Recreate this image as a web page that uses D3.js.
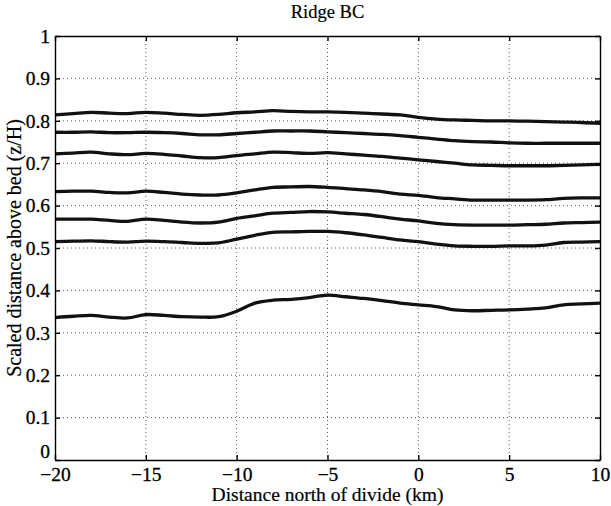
<!DOCTYPE html>
<html>
<head>
<meta charset="utf-8">
<script src="https://cdn.jsdelivr.net/npm/d3@7"></script>
<style>
  body { margin: 0; background: #fff; }
  svg text { font-family: "Liberation Serif", "Times New Roman", serif; fill: #000; }
</style>
</head>
<body>
<svg id="chart" width="611" height="506"></svg>
<script>
// x positions (km north of divide)
var distKm = d3.range(-20, 11, 1);

// scaled height above bed for each traced layer, top to bottom
var layer1 = [.814,.817,.820,.818,.817,.820,.818,.815,.813,.815,.819,.821,.824,.822,.821,.821,.820,.818,.816,.814,.808,.804,.802,.801,.800,.800,.799,.798,.797,.796,.794];
var layer2 = [.773,.773,.774,.772,.772,.773,.772,.770,.767,.767,.770,.773,.776,.776,.776,.774,.772,.770,.768,.765,.761,.757,.753,.751,.750,.748,.747,.747,.747,.747,.747];
var layer3 = [.722,.724,.726,.722,.720,.723,.721,.717,.713,.713,.718,.722,.726,.725,.723,.725,.722,.719,.716,.712,.708,.704,.700,.696,.695,.694,.694,.694,.695,.696,.697];
var layer4 = [.633,.634,.634,.631,.630,.634,.631,.627,.625,.625,.630,.637,.643,.644,.645,.643,.640,.637,.633,.627,.624,.619,.616,.613,.613,.613,.613,.614,.617,.618,.618];
var layer5 = [.568,.568,.568,.565,.563,.568,.565,.561,.559,.561,.570,.576,.582,.584,.586,.585,.582,.579,.574,.568,.564,.558,.555,.554,.554,.554,.555,.556,.559,.560,.561];
var layer6 = [.515,.516,.517,.515,.514,.516,.515,.513,.511,.512,.521,.530,.537,.538,.539,.539,.536,.531,.525,.519,.515,.509,.505,.504,.504,.505,.505,.507,.513,.514,.515];
var layer7 = [.336,.339,.341,.337,.335,.343,.341,.338,.337,.338,.351,.370,.377,.379,.383,.389,.385,.381,.376,.370,.366,.362,.354,.352,.353,.354,.356,.359,.366,.368,.370];

var xTicks = [-20, -15, -10, -5, 0, 5, 10];
var yTicks = [0, 0.1, 0.2, 0.3, 0.4, 0.5, 0.6, 0.7, 0.8, 0.9, 1];

var svg = d3.select('#chart');
var margin = {top: 36, right: 11, bottom: 46, left: 55};
var W = 611 - margin.left - margin.right;
var H = 506 - margin.top - margin.bottom;

var x = d3.scaleLinear().domain([-20, 10]).range([0, W]);
var y = d3.scaleLinear().domain([0, 1]).range([H, 0]);

var g = svg.append('g')
    .attr('transform', 'translate(' + margin.left + ',' + margin.top + ')');

// dotted grid
g.append('g').selectAll('line')
    .data(xTicks.slice(1, -1))
    .enter().append('line')
    .attr('x1', function(d) { return x(d); })
    .attr('x2', function(d) { return x(d); })
    .attr('y1', 0).attr('y2', H)
    .attr('stroke', '#333').attr('stroke-width', 0.8)
    .attr('stroke-dasharray', '1,3');

g.append('g').selectAll('line')
    .data(yTicks.slice(1, -1))
    .enter().append('line')
    .attr('y1', function(d) { return y(d); })
    .attr('y2', function(d) { return y(d); })
    .attr('x1', 0).attr('x2', W)
    .attr('stroke', '#333').attr('stroke-width', 0.8)
    .attr('stroke-dasharray', '1,3');

// the traced layers
var line = d3.line()
    .curve(d3.curveCatmullRom)
    .x(function(d, i) { return x(distKm[i]); })
    .y(function(d) { return y(d); });

g.append('g').selectAll('path')
    .data([layer1, layer2, layer3, layer4, layer5, layer6, layer7])
    .enter().append('path')
    .attr('d', line)
    .attr('fill', 'none')
    .attr('stroke', '#111')
    .attr('stroke-width', 3.3)
    .attr('stroke-linejoin', 'round');

// axes, MATLAB style: ticks inside on all four sides
var fmtX = function(d) { return d < 0 ? '\u2212' + Math.abs(d) : d; };
var fmtY = function(d) { return d === 0 || d === 1 ? d : d.toFixed(1); };

var xAxis = g.append('g')
    .attr('transform', 'translate(0,' + H + ')')
    .call(d3.axisBottom(x).tickValues(xTicks).tickFormat(fmtX).tickSizeInner(-5).tickSizeOuter(0).tickPadding(7));
var yAxis = g.append('g')
    .call(d3.axisLeft(y).tickValues(yTicks).tickFormat(fmtY).tickSizeInner(-5).tickSizeOuter(0).tickPadding(5));
var xTop = g.append('g')
    .call(d3.axisTop(x).tickValues(xTicks).tickFormat('').tickSizeInner(-5).tickSizeOuter(0));
var yRight = g.append('g')
    .attr('transform', 'translate(' + W + ',0)')
    .call(d3.axisRight(y).tickValues(yTicks).tickFormat('').tickSizeInner(-5).tickSizeOuter(0));

[xAxis, yAxis, xTop, yRight].forEach(function(a) {
    a.selectAll('path, line').attr('stroke', '#000').attr('stroke-width', 1.4);
    a.selectAll('text').style('font-size', '19.5px').attr('fill', '#000')
        .attr('stroke', '#000').attr('stroke-width', 0.3);
});

// lift the "0" a little so it clears the -20 below it
yAxis.selectAll('.tick text').filter(function(d) { return d === 0; }).attr('dy', '-0.15em');

// labels
svg.append('text')
    .attr('x', margin.left + W / 2).attr('y', 18)
    .attr('text-anchor', 'middle')
    .style('font-size', '18.5px')
    .attr('stroke', '#000').attr('stroke-width', 0.2)
    .text('Ridge BC');

svg.append('text')
    .attr('x', margin.left + W / 2).attr('y', 501)
    .attr('text-anchor', 'middle')
    .style('font-size', '19.5px')
    .attr('stroke', '#000').attr('stroke-width', 0.2)
    .text('Distance north of divide (km)');

svg.append('text')
    .attr('transform', 'translate(21,' + (margin.top + H / 2) + ') rotate(-90)')
    .attr('text-anchor', 'middle')
    .style('font-size', '20px')
    .attr('stroke', '#000').attr('stroke-width', 0.2)
    .text('Scaled distance above bed (z/H)');
</script>
</body>
</html>
